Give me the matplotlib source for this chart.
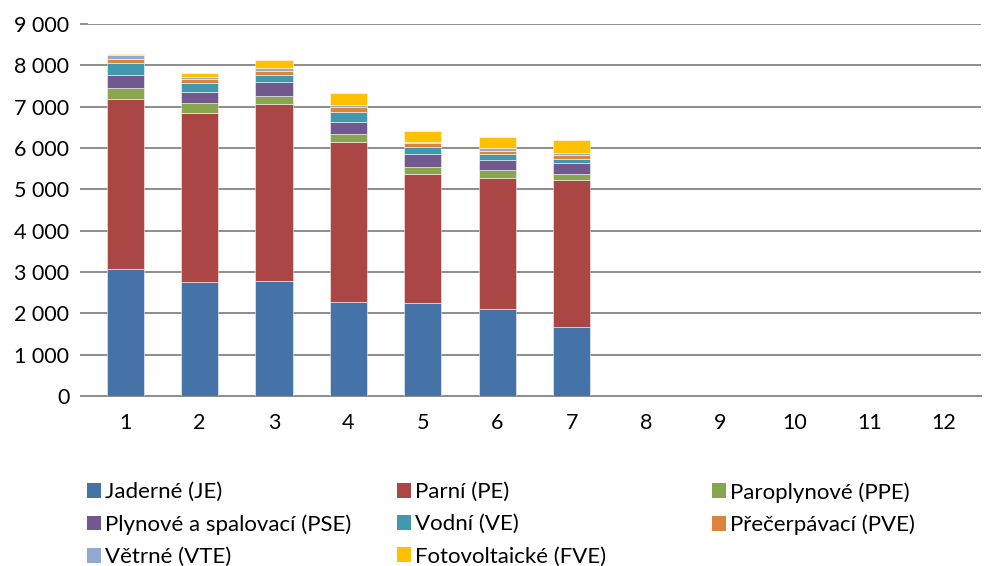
import numpy as np
import matplotlib
matplotlib.use("Agg")
import matplotlib.pyplot as plt
from matplotlib.patches import Patch

plt.rcParams['font.family'] = ['Lato', 'DejaVu Sans']

categories = [str(i) for i in range(1, 13)]
nan = np.nan
JE  = [3065, 2760, 2783, 2285, 2250, 2100, 1680, nan, nan, nan, nan, nan]
PE  = [4114, 4080, 4273, 3868, 3129, 3182, 3554, nan, nan, nan, nan, nan]
PPE = [280, 242, 210, 186, 169, 179, 130, nan, nan, nan, nan, nan]
PSE = [315, 281, 324, 298, 307, 251, 281, nan, nan, nan, nan, nan]
VE  = [274, 203, 176, 243, 161, 138, 89, nan, nan, nan, nan, nan]
PVE = [111, 104, 96, 105, 96, 88, 97, nan, nan, nan, nan, nan]
VTE = [82, 41, 81, 55, 41, 57, 56, nan, nan, nan, nan, nan]
FVE = [39, 113, 186, 282, 266, 281, 307, nan, nan, nan, nan, nan]

series = [
    ("Jaderné (JE)", JE, "#4572A7"),
    ("Parní (PE)", PE, "#AA4643"),
    ("Paroplynové (PPE)", PPE, "#89A54E"),
    ("Plynové a spalovací (PSE)", PSE, "#71588F"),
    ("Vodní (VE)", VE, "#4198AF"),
    ("Přečerpávací (PVE)", PVE, "#DB843D"),
    ("Větrné (VTE)", VTE, "#93A9CF"),
    ("Fotovoltaické (FVE)", FVE, "#FFC000"),
]

fig = plt.figure(figsize=(9.86, 5.66), dpi=100)
ax = fig.add_axes([88/986, 1-396/566, (981-88)/986, (396-24)/566])

x = np.arange(len(categories))
bottom = np.zeros(len(categories))
handles = {}
for name, vals, col in series:
    v = np.array(vals, dtype=float)
    ax.bar(x, v, width=0.5, bottom=bottom, color=col, edgecolor=(1, 1, 1, 0.6),
           linewidth=0.6, zorder=3)
    bottom = bottom + np.nan_to_num(v)
    handles[name] = Patch(facecolor=col, edgecolor='none')

ax.set_xlim(-0.5, len(categories) - 0.5)
ax.set_ylim(0, 9000)
ax.set_yticks(np.arange(0, 9001, 1000))
ax.set_yticklabels([f"{int(t):,}".replace(",", " ") for t in np.arange(0, 9001, 1000)])
ax.set_xticks(x)
ax.set_xticklabels(categories)
ax.yaxis.grid(True, color="#8c8c8c", linewidth=1.4, zorder=0)
for s in ['top', 'right', 'left']:
    ax.spines[s].set_visible(False)
ax.spines['bottom'].set_color("#8c8c8c")
ax.spines['bottom'].set_linewidth(1.4)
ax.tick_params(axis='y', length=6, width=1.4, color="#8c8c8c", labelsize=15.5, pad=7.5)
ax.tick_params(axis='x', length=0, labelsize=15.5, pad=12)

cols = [
    (["Jaderné (JE)", "Plynové a spalovací (PSE)", "Větrné (VTE)"], 87),
    (["Parní (PE)", "Vodní (VE)", "Fotovoltaické (FVE)"], 397),
    (["Paroplynové (PPE)", "Přečerpávací (PVE)"], 712),
]
for names, px in cols:
    fig.legend([handles[n] for n in names], names, loc='upper left',
               bbox_to_anchor=(px/986, 1-482/566), frameon=False, fontsize=16,
               handlelength=0.65, handleheight=0.65, handletextpad=0.15,
               labelspacing=0.55, borderaxespad=0, borderpad=0)

fig.savefig("out.png", dpi=100)
